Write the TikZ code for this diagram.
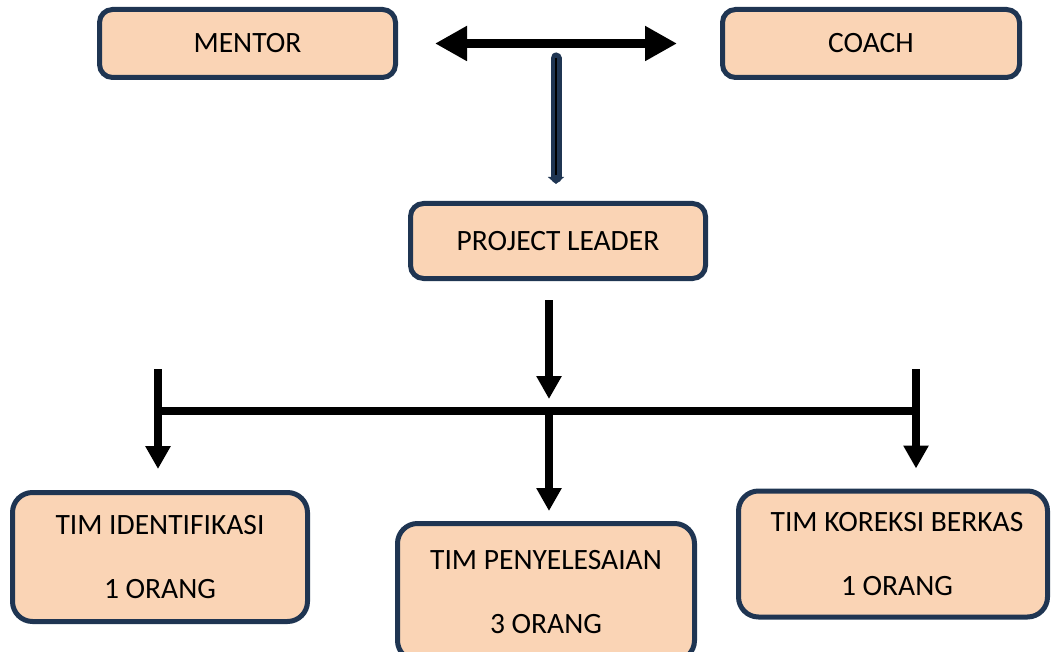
\documentclass[tikz,border=0pt]{standalone}
\usepackage{fontspec}
\setmainfont{Carlito}
\usetikzlibrary{arrows.meta,calc}
\definecolor{peach}{HTML}{FAD4B5}
\definecolor{navy}{HTML}{1F3552}
\begin{document}
\begin{tikzpicture}[x=1pt,y=-1pt,
  box/.style={draw=navy, fill=peach, line width=5pt, rounded corners=13pt,
    font=\fontsize{29.5}{64}\selectfont, align=center, inner sep=0pt},
  tbox/.style={box, rounded corners=20pt},
  bigline/.style={line width=9pt, black},
  arr/.style={line width=8pt, black, -{Triangle[width=24pt,length=23pt]}}
]
\useasboundingbox (0,0) rectangle (1051,652);
\begin{scope}
\clip (0,0) rectangle (1051,652);
\node[box, minimum width=296pt, minimum height=68pt] (mentor) at (247.5,43.5) {MENTOR};
\node[box, minimum width=297pt, minimum height=68pt] (coach) at (871,43.5) {COACH};
\node[box, minimum width=295pt, minimum height=75pt] (pl) at (558,241) {PROJECT LEADER};
\node[tbox, minimum width=295pt, minimum height=129pt] (ident) at (160,557) {TIM IDENTIFIKASI\\1 ORANG};
\node[tbox, minimum width=297pt, minimum height=137pt] (penyel) at (546,592) {TIM PENYELESAIAN\\3 ORANG};
\node[tbox, minimum width=309pt, minimum height=126pt] (koreksi) at (893,554) {\hspace*{8pt}TIM KOREKSI BERKAS\\\hspace*{8pt}1 ORANG};
\end{scope}

% double arrow between mentor and coach
\draw[bigline, {Triangle[width=33pt,length=32pt]}-{Triangle[width=33pt,length=32pt]},
  shorten <=37pt, shorten >=43pt] (mentor.east) -- (coach.west);

% navy arrow down to project leader
\coordinate (t) at (556,58);
\draw[navy, line width=11pt, line cap=round, -{Triangle[width=16pt,length=7pt]}]
  (t) -- ($(t |- pl.north)+(0,-17)$);
\draw[black, line width=1.6pt] (t) -- ($(t |- pl.north)+(0,-26)$);

% from project leader to bar
\coordinate (pm) at (549,300);
\coordinate (bm) at (549,411);
\coordinate (bl) at (154,411);
\coordinate (br) at (920,411);
\draw[arr] (pm) -- ($(bm)+(0,-12)$);
\draw[line width=8pt] (bl) -- (br);

% branches
\coordinate (lt) at (158,369);
\coordinate (rt) at (916,369);
\draw[arr] (lt) -- ($(lt |- ident.north)+(0,-21)$);
\draw[arr] (rt) -- ($(rt |- koreksi.north)+(0,-20)$);
\draw[arr] (bm) -- ($(bm |- penyel.north)+(0,-10)$);
\end{tikzpicture}
\end{document}
